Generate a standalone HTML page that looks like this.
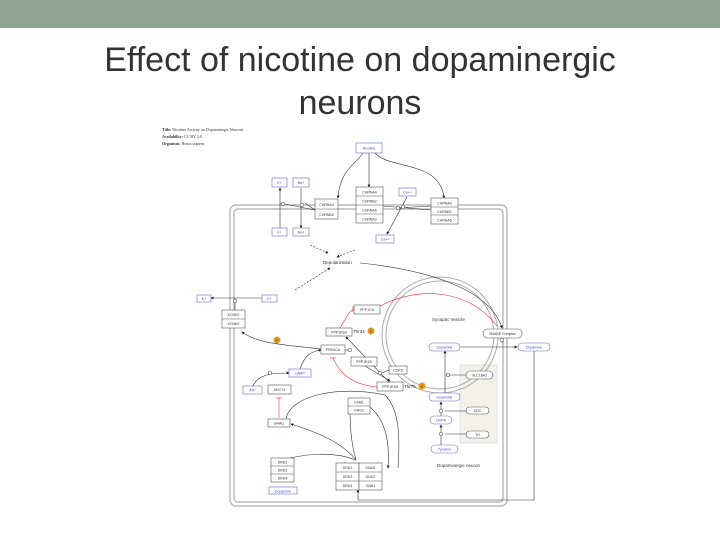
<!DOCTYPE html>
<html><head><meta charset="utf-8"><style>
body{margin:0;width:720px;height:540px;overflow:hidden;background:#fff;font-family:"Liberation Sans",sans-serif}
.top{position:absolute;left:0;top:0;width:720px;height:28px;background:#8fa393}
h1{position:absolute;left:0;top:39px;width:720px;margin:0;text-align:center;font-weight:normal;font-size:34px;line-height:43px;color:#333}
svg{position:absolute;left:0;top:0}
</style></head><body>
<div class="top"></div>
<h1>Effect of nicotine on dopaminergic<br>neurons</h1>
<svg width="720" height="540" viewBox="0 0 720 540" font-family="Liberation Sans, sans-serif" font-size="4.5">
<defs>
<marker id="a" markerWidth="5" markerHeight="5" refX="4" refY="2.5" orient="auto"><path d="M0,0L5,2.5L0,5z" fill="#222"/></marker>
</defs>
<g font-family="Liberation Serif, serif" font-size="4" fill="#333">
<text x="162" y="131"><tspan font-weight="bold">Title:</tspan> Nicotine Activity on Dopaminergic Neurons</text>
<text x="162" y="138"><tspan font-weight="bold">Availability:</tspan> CC BY 2.0</text>
<text x="162" y="145"><tspan font-weight="bold">Organism:</tspan> Homo sapiens</text>
</g>
<rect x="230" y="205" width="277" height="301" rx="6" fill="none" stroke="#bbb" stroke-width="1.5"/>
<rect x="234" y="209" width="269" height="293" rx="4" fill="none" stroke="#bbb" stroke-width="1.5"/>
<rect x="460" y="365" width="37" height="78" fill="#f3f1ea" stroke="#ccc" stroke-width="0.5"/>
<circle cx="440" cy="335" r="58" fill="none" stroke="#aaa" stroke-width="1"/>
<circle cx="440" cy="335" r="54" fill="none" stroke="#aaa" stroke-width="1"/>
<g fill="none" stroke="#333" stroke-width="0.6">
<path d="M363,153 C355,165 340,170 338,198" marker-end="url(#a)"/>
<path d="M369,153 V187" marker-end="url(#a)"/>
<path d="M375,153 C390,170 440,160 444,198" marker-end="url(#a)"/>
<path d="M280,228 V188" marker-end="url(#a)"/>
<path d="M301,188 V228" marker-end="url(#a)"/>
<path d="M280,203 L315,210 M305,203 L315,210"/>
<path d="M407,197 L387,234" marker-end="url(#a)"/>
<path d="M383,206 L431,210 M398,208 L431,206"/>
<path d="M310,245 L328,253" stroke-dasharray="2,1.5" marker-end="url(#a)"/>
<path d="M355,250 L337,257" stroke-dasharray="2,1.5" marker-end="url(#a)"/>
<path d="M295,290 L330,268" stroke-dasharray="2,1.5" marker-end="url(#a)"/>
<path d="M360,263 C430,270 490,290 502,328" marker-end="url(#a)"/>
<path d="M262,298 H211" marker-end="url(#a)"/>
<path d="M235,298 V310"/>
<path d="M321,349 C290,345 260,345 242,332" marker-end="url(#a)"/>
<path d="M300,369 C305,355 310,352 321,350" marker-end="url(#a)"/>
<path d="M253,386 C258,375 270,373 289,373" marker-end="url(#a)"/>
<path d="M345,350 H351"/>
<path d="M389,382 L346,337" marker-end="url(#a)"/>
<path d="M365,366 L390,381" marker-end="url(#a)"/>
<path d="M389,370 L382,373"/>
<path d="M460,347 H517" marker-end="url(#a)"/>
<path d="M502,337 V343"/>
<path d="M466,375 H448"/>
<path d="M445,393 V351" marker-end="url(#a)"/>
<path d="M441,416 V402" marker-end="url(#a)"/>
<path d="M441,445 V425" marker-end="url(#a)"/>
<path d="M466,411 H445 M466,434 H445"/>
<path d="M534,351 V500 H358 V490" marker-end="url(#a)"/>
<path d="M286,419 C290,395 340,385 385,395 C400,410 400,440 398,468"/>
<path d="M356,460 C340,440 310,430 291,424" marker-end="url(#a)"/>
<path d="M356,460 C330,450 300,455 283,460" marker-end="url(#a)"/>
<path d="M356,460 C350,440 350,420 350,401" marker-end="url(#a)"/>
<path d="M370,407 C385,420 390,440 388,468" marker-end="url(#a)"/>
</g>
<g fill="none" stroke="#e33" stroke-width="0.6">
<path d="M340,328 C345,320 348,312 354,309"/><path d="M353,306 V312"/>
<path d="M380,306 C420,285 470,290 497,326"/>
<path d="M377,387 C355,385 340,375 333,358"/><path d="M330,358 H336"/>
<path d="M279,418 V398"/><path d="M276,398 H282"/>
</g>
<g fill="#fff" stroke="#333" stroke-width="0.5">
<circle cx="283" cy="204" r="1.8"/><circle cx="302" cy="205" r="1.8"/><circle cx="398" cy="208" r="1.8"/><circle cx="403" cy="207" r="1.8"/>
<circle cx="235" cy="301" r="1.8"/><circle cx="350" cy="350" r="1.8"/><circle cx="270" cy="373" r="1.8"/><circle cx="380" cy="373" r="1.8"/>
<circle cx="502" cy="340" r="1.8"/><circle cx="448" cy="375" r="1.8"/><circle cx="441" cy="411" r="1.8"/><circle cx="441" cy="434" r="1.8"/>
</g>
<g stroke="#555" stroke-width="0.6" fill="#fff">
<rect x="315" y="199" width="23" height="20"/><line x1="315" y1="209" x2="338" y2="209"/>
<rect x="356" y="187" width="27" height="36"/><line x1="356" y1="196" x2="383" y2="196"/><line x1="356" y1="205" x2="383" y2="205"/><line x1="356" y1="214" x2="383" y2="214"/>
<rect x="431" y="198" width="27" height="26"/><line x1="431" y1="207" x2="458" y2="207"/><line x1="431" y1="215" x2="458" y2="215"/>
<rect x="222" y="310" width="23" height="18"/><line x1="222" y1="319" x2="245" y2="319"/>
<rect x="354" y="305" width="26" height="9"/><rect x="326" y="328" width="26" height="8"/><rect x="321" y="345" width="24" height="9"/>
<rect x="351" y="357" width="26" height="9"/><rect x="389" y="366" width="18" height="8"/><rect x="377" y="382" width="26" height="9"/>
<rect x="268" y="385" width="23" height="9"/><rect x="348" y="398" width="22" height="16"/><line x1="348" y1="406" x2="370" y2="406"/>
<rect x="268" y="419" width="22" height="8"/>
<rect x="271" y="458" width="23" height="24"/><line x1="271" y1="466" x2="294" y2="466"/><line x1="271" y1="474" x2="294" y2="474"/>
<rect x="336" y="463" width="23" height="27"/><line x1="336" y1="472" x2="359" y2="472"/><line x1="336" y1="481" x2="359" y2="481"/>
<rect x="359" y="463" width="23" height="27"/><line x1="359" y1="472" x2="382" y2="472"/><line x1="359" y1="481" x2="382" y2="481"/>
<rect x="483" y="329" width="39" height="9" rx="4"/><rect x="466" y="371" width="27" height="8" rx="4"/>
<rect x="466" y="407" width="23" height="7" rx="3.5"/><rect x="466" y="431" width="23" height="7" rx="3.5"/>
</g>
<g stroke="#66c" stroke-width="0.6" fill="#fff">
<rect x="356" y="143" width="26" height="10"/><rect x="272" y="178" width="15" height="9"/><rect x="293" y="178" width="16" height="9"/>
<rect x="399" y="188" width="17" height="8"/><rect x="272" y="228" width="15" height="8"/><rect x="293" y="228" width="16" height="8"/>
<rect x="376" y="235" width="18" height="8"/><rect x="197" y="295" width="14" height="7"/><rect x="262" y="295" width="15" height="7"/>
<rect x="289" y="369" width="22" height="8"/><rect x="243" y="386" width="19" height="8"/><rect x="269" y="487" width="28" height="7"/>
<rect x="429" y="343" width="31" height="8" rx="4"/><rect x="518" y="343" width="32" height="8" rx="4"/><rect x="429" y="393" width="31" height="8" rx="4"/>
<rect x="430" y="416" width="22" height="8" rx="4"/><rect x="431" y="445" width="27" height="8" rx="4"/>
</g>
<g fill="#e39a1c"><circle cx="371" cy="331" r="3.5"/><circle cx="277" cy="340" r="3.5"/><circle cx="422" cy="386" r="3.5"/></g>
<g font-size="3.5" fill="#333" text-anchor="middle">
<text x="326.5" y="206">CHRNA4</text><text x="326.5" y="216">CHRNB2</text>
<text x="369.5" y="193.5">CHRNA4</text><text x="369.5" y="202.5">CHRNB2</text><text x="369.5" y="211.5">CHRNA6</text><text x="369.5" y="220.5">CHRNA3</text>
<text x="444.5" y="204.5">CHRNA4</text><text x="444.5" y="213">CHRNB2</text><text x="444.5" y="221.5">CHRNA5</text>
<text x="233.5" y="316">KCNK3</text><text x="233.5" y="325">KCNK9</text>
<text x="367" y="311">PPP1CA</text><text x="339" y="333.5">PPP1R1B</text><text x="333" y="351">PRKACA</text>
<text x="364" y="363">PPP1R1B</text><text x="398" y="371.5">CDK5</text><text x="390" y="388">PPP1R1B</text>
<text x="279.5" y="391">ADCY2</text><text x="359" y="403.5">GNB1</text><text x="359" y="411.5">GNG2</text><text x="279" y="424.5">GNAI1</text>
<text x="282.5" y="463.5">DRD2</text><text x="282.5" y="471.5">DRD3</text><text x="282.5" y="479.5">DRD4</text>
<text x="347.5" y="469">DRD2</text><text x="347.5" y="478">DRD3</text><text x="347.5" y="487">DRD4</text>
<text x="370.5" y="469">GNAI1</text><text x="370.5" y="478">GNG2</text><text x="370.5" y="487">GNB1</text>
<text x="502.5" y="335">SNARE Complex</text><text x="479.5" y="376.5">SLC18A2</text><text x="477.5" y="412">DDC</text><text x="477.5" y="436">TH</text>
<text x="277" y="342" fill="#333">P</text><text x="371" y="333" >P</text><text x="422" y="388">P</text>
</g>
<g font-size="3.5" fill="#44c" text-anchor="middle">
<text x="369" y="149.5">Nicotine</text><text x="279.5" y="184">K+</text><text x="301" y="184">Na+</text><text x="407.5" y="193.5">Ca++</text>
<text x="279.5" y="233.5">K+</text><text x="301" y="233.5">Na+</text><text x="385" y="240.5">Ca++</text>
<text x="204" y="300">K+</text><text x="269.5" y="300">K+</text><text x="300" y="374.5">cAMP</text><text x="252.5" y="391.5">ATP</text>
<text x="283" y="492.5">Dopamine</text><text x="444.5" y="348.5">Dopamine</text><text x="534" y="348.5">Dopamine</text><text x="444.5" y="398.5">Dopamine</text>
<text x="441" y="421.5">DOPA</text><text x="444.5" y="450.5">Tyrosine</text>
</g>
<g font-size="4.5" fill="#333">
<text x="323" y="264">Depolarization</text><text x="432" y="321">Synaptic Vesicle</text>
<text x="437" y="467">Dopaminergic neuron</text><text x="353" y="333">Thr34</text><text x="404" y="388">Thr75</text>
</g>
</svg>
</body></html>
